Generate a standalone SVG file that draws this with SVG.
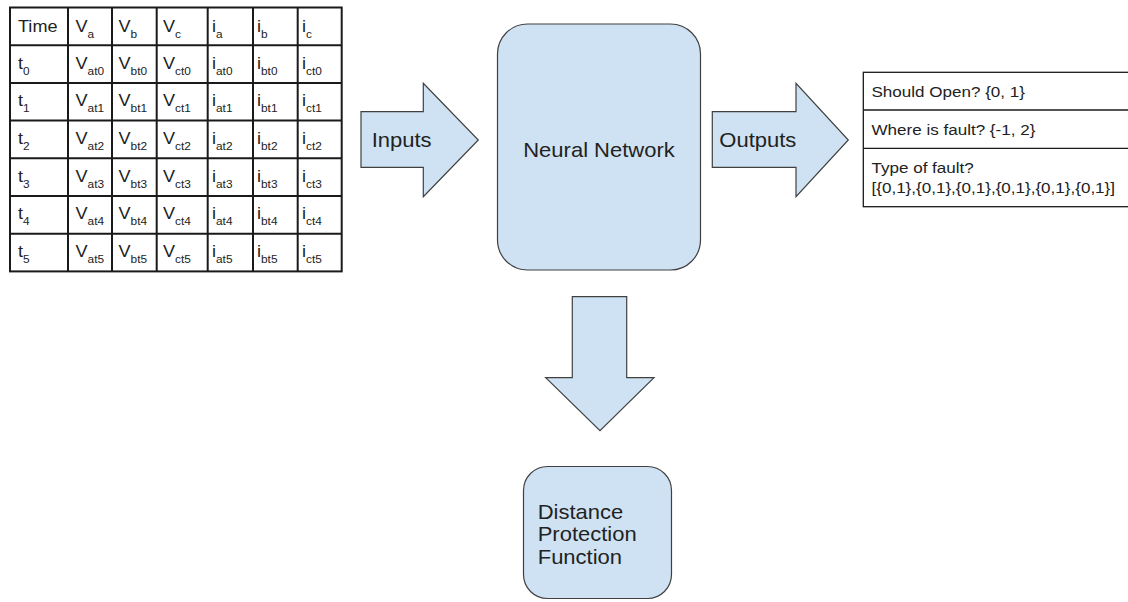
<svg xmlns="http://www.w3.org/2000/svg" width="1128" height="602" viewBox="0 0 1128 602">
<style>
  .bg{fill:#ffffff}
  .shape{fill:#cfe2f3;stroke:#404040;stroke-width:1.2}
  .grid{fill:none;stroke:#1a1a1a;stroke-width:2}
  .otab{fill:#ffffff;stroke:#1a1a1a;stroke-width:1.3}
  text{font-family:"Liberation Sans",Arial,sans-serif;fill:#222222}
  .cell{font-size:16px}
  .sub{font-size:10.5px}
  .lbl{font-size:20px}
  .out{font-size:15.5px}
</style>
<rect class="bg" x="0" y="0" width="1128" height="602"/>

<g id="input-table">
  <rect class="grid" x="10" y="7.5" width="331.7" height="263.9"/>
  <g class="grid">
    <line x1="68" y1="7.5" x2="68" y2="271.4" stroke="#1a1a1a" stroke-width="2"/>
    <line x1="112" y1="7.5" x2="112" y2="271.4" stroke="#1a1a1a" stroke-width="2"/>
    <line x1="156.7" y1="7.5" x2="156.7" y2="271.4" stroke="#1a1a1a" stroke-width="2"/>
    <line x1="207.7" y1="7.5" x2="207.7" y2="271.4" stroke="#1a1a1a" stroke-width="2"/>
    <line x1="253" y1="7.5" x2="253" y2="271.4" stroke="#1a1a1a" stroke-width="2"/>
    <line x1="297.7" y1="7.5" x2="297.7" y2="271.4" stroke="#1a1a1a" stroke-width="2"/>
    <line x1="10" y1="45.2" x2="341.7" y2="45.2" stroke="#1a1a1a" stroke-width="2"/>
    <line x1="10" y1="82.9" x2="341.7" y2="82.9" stroke="#1a1a1a" stroke-width="2"/>
    <line x1="10" y1="120.6" x2="341.7" y2="120.6" stroke="#1a1a1a" stroke-width="2"/>
    <line x1="10" y1="158.3" x2="341.7" y2="158.3" stroke="#1a1a1a" stroke-width="2"/>
    <line x1="10" y1="196" x2="341.7" y2="196" stroke="#1a1a1a" stroke-width="2"/>
    <line x1="10" y1="233.7" x2="341.7" y2="233.7" stroke="#1a1a1a" stroke-width="2"/>
  </g>
  <!-- header -->
  <text class="cell" transform="matrix(1.13 0 0 1 18 31.5)">Time</text>
  <text class="cell" transform="matrix(1.13 0 0 1 75.5 31.5)">V<tspan class="sub" dy="6">a</tspan></text>
  <text class="cell" transform="matrix(1.13 0 0 1 118.5 31.5)">V<tspan class="sub" dy="6">b</tspan></text>
  <text class="cell" transform="matrix(1.13 0 0 1 163 31.5)">V<tspan class="sub" dy="6">c</tspan></text>
  <text class="cell" transform="matrix(1.13 0 0 1 212 31.5)">i<tspan class="sub" dy="6">a</tspan></text>
  <text class="cell" transform="matrix(1.13 0 0 1 257 31.5)">i<tspan class="sub" dy="6">b</tspan></text>
  <text class="cell" transform="matrix(1.13 0 0 1 302 31.5)">i<tspan class="sub" dy="6">c</tspan></text>
  <!-- t0 -->
  <text class="cell" transform="matrix(1.13 0 0 1 18 68.5)">t<tspan class="sub" dy="6">0</tspan></text>
  <text class="cell" transform="matrix(1.13 0 0 1 75.5 68.5)">V<tspan class="sub" dy="6">at0</tspan></text>
  <text class="cell" transform="matrix(1.13 0 0 1 118.5 68.5)">V<tspan class="sub" dy="6">bt0</tspan></text>
  <text class="cell" transform="matrix(1.13 0 0 1 163 68.5)">V<tspan class="sub" dy="6">ct0</tspan></text>
  <text class="cell" transform="matrix(1.13 0 0 1 212 68.5)">i<tspan class="sub" dy="6">at0</tspan></text>
  <text class="cell" transform="matrix(1.13 0 0 1 257 68.5)">i<tspan class="sub" dy="6">bt0</tspan></text>
  <text class="cell" transform="matrix(1.13 0 0 1 302 68.5)">i<tspan class="sub" dy="6">ct0</tspan></text>
  <!-- t1 -->
  <text class="cell" transform="matrix(1.13 0 0 1 18 106.2)">t<tspan class="sub" dy="6">1</tspan></text>
  <text class="cell" transform="matrix(1.13 0 0 1 75.5 106.2)">V<tspan class="sub" dy="6">at1</tspan></text>
  <text class="cell" transform="matrix(1.13 0 0 1 118.5 106.2)">V<tspan class="sub" dy="6">bt1</tspan></text>
  <text class="cell" transform="matrix(1.13 0 0 1 163 106.2)">V<tspan class="sub" dy="6">ct1</tspan></text>
  <text class="cell" transform="matrix(1.13 0 0 1 212 106.2)">i<tspan class="sub" dy="6">at1</tspan></text>
  <text class="cell" transform="matrix(1.13 0 0 1 257 106.2)">i<tspan class="sub" dy="6">bt1</tspan></text>
  <text class="cell" transform="matrix(1.13 0 0 1 302 106.2)">i<tspan class="sub" dy="6">ct1</tspan></text>
  <!-- t2 -->
  <text class="cell" transform="matrix(1.13 0 0 1 18 143.9)">t<tspan class="sub" dy="6">2</tspan></text>
  <text class="cell" transform="matrix(1.13 0 0 1 75.5 143.9)">V<tspan class="sub" dy="6">at2</tspan></text>
  <text class="cell" transform="matrix(1.13 0 0 1 118.5 143.9)">V<tspan class="sub" dy="6">bt2</tspan></text>
  <text class="cell" transform="matrix(1.13 0 0 1 163 143.9)">V<tspan class="sub" dy="6">ct2</tspan></text>
  <text class="cell" transform="matrix(1.13 0 0 1 212 143.9)">i<tspan class="sub" dy="6">at2</tspan></text>
  <text class="cell" transform="matrix(1.13 0 0 1 257 143.9)">i<tspan class="sub" dy="6">bt2</tspan></text>
  <text class="cell" transform="matrix(1.13 0 0 1 302 143.9)">i<tspan class="sub" dy="6">ct2</tspan></text>
  <!-- t3 -->
  <text class="cell" transform="matrix(1.13 0 0 1 18 181.6)">t<tspan class="sub" dy="6">3</tspan></text>
  <text class="cell" transform="matrix(1.13 0 0 1 75.5 181.6)">V<tspan class="sub" dy="6">at3</tspan></text>
  <text class="cell" transform="matrix(1.13 0 0 1 118.5 181.6)">V<tspan class="sub" dy="6">bt3</tspan></text>
  <text class="cell" transform="matrix(1.13 0 0 1 163 181.6)">V<tspan class="sub" dy="6">ct3</tspan></text>
  <text class="cell" transform="matrix(1.13 0 0 1 212 181.6)">i<tspan class="sub" dy="6">at3</tspan></text>
  <text class="cell" transform="matrix(1.13 0 0 1 257 181.6)">i<tspan class="sub" dy="6">bt3</tspan></text>
  <text class="cell" transform="matrix(1.13 0 0 1 302 181.6)">i<tspan class="sub" dy="6">ct3</tspan></text>
  <!-- t4 -->
  <text class="cell" transform="matrix(1.13 0 0 1 18 219.3)">t<tspan class="sub" dy="6">4</tspan></text>
  <text class="cell" transform="matrix(1.13 0 0 1 75.5 219.3)">V<tspan class="sub" dy="6">at4</tspan></text>
  <text class="cell" transform="matrix(1.13 0 0 1 118.5 219.3)">V<tspan class="sub" dy="6">bt4</tspan></text>
  <text class="cell" transform="matrix(1.13 0 0 1 163 219.3)">V<tspan class="sub" dy="6">ct4</tspan></text>
  <text class="cell" transform="matrix(1.13 0 0 1 212 219.3)">i<tspan class="sub" dy="6">at4</tspan></text>
  <text class="cell" transform="matrix(1.13 0 0 1 257 219.3)">i<tspan class="sub" dy="6">bt4</tspan></text>
  <text class="cell" transform="matrix(1.13 0 0 1 302 219.3)">i<tspan class="sub" dy="6">ct4</tspan></text>
  <!-- t5 -->
  <text class="cell" transform="matrix(1.13 0 0 1 18 257)">t<tspan class="sub" dy="6">5</tspan></text>
  <text class="cell" transform="matrix(1.13 0 0 1 75.5 257)">V<tspan class="sub" dy="6">at5</tspan></text>
  <text class="cell" transform="matrix(1.13 0 0 1 118.5 257)">V<tspan class="sub" dy="6">bt5</tspan></text>
  <text class="cell" transform="matrix(1.13 0 0 1 163 257)">V<tspan class="sub" dy="6">ct5</tspan></text>
  <text class="cell" transform="matrix(1.13 0 0 1 212 257)">i<tspan class="sub" dy="6">at5</tspan></text>
  <text class="cell" transform="matrix(1.13 0 0 1 257 257)">i<tspan class="sub" dy="6">bt5</tspan></text>
  <text class="cell" transform="matrix(1.13 0 0 1 302 257)">i<tspan class="sub" dy="6">ct5</tspan></text>
</g>

<g id="neural-network">
  <rect class="shape" x="497.5" y="24" width="203" height="246" rx="30" ry="30"/>
  <text class="lbl" text-anchor="middle" transform="matrix(1.1 0 0 1 599 156.7)">Neural Network</text>
</g>

<g id="outputs-table">
  <rect class="otab" x="863.3" y="72.3" width="270" height="134.4"/>
  <line x1="863.3" y1="110" x2="1133" y2="110" stroke="#1a1a1a" stroke-width="1.3"/>
  <line x1="863.3" y1="148.3" x2="1133" y2="148.3" stroke="#1a1a1a" stroke-width="1.3"/>
  <text class="out" transform="matrix(1.1 0 0 1 871.5 96.7)">Should Open? {0, 1}</text>
  <text class="out" transform="matrix(1.1 0 0 1 871.5 135)">Where is fault? {-1, 2}</text>
  <text class="out" transform="matrix(1.1 0 0 1 871.5 172.7)">Type of fault?</text>
  <text class="out" transform="matrix(1.1 0 0 1 871.5 192.7)">[{0,1},{0,1},{0,1},{0,1},{0,1},{0,1}]</text>
</g>

<g id="distance-protection">
  <rect class="shape" x="523.5" y="466.5" width="148" height="132" rx="24" ry="24"/>
  <text class="lbl" transform="matrix(1.1 0 0 1 537.7 518.5)">Distance</text>
  <text class="lbl" transform="matrix(1.1 0 0 1 537.7 541)">Protection</text>
  <text class="lbl" transform="matrix(1.1 0 0 1 537.7 563.5)">Function</text>
</g>

<g id="connectors">
  <g id="inputs-arrow">
    <polygon class="shape" points="361,111.7 423.3,111.7 423.3,83.3 478.3,140 423.3,196.7 423.3,167.3 361,167.3"/>
    <text class="lbl" transform="matrix(1.1 0 0 1 371.7 147.3)">Inputs</text>
  </g>
  <g id="outputs-arrow">
    <polygon class="shape" points="712.3,111.7 796,111.7 796,83.3 848.3,140 796,196.7 796,167.3 712.3,167.3"/>
    <text class="lbl" transform="matrix(1.1 0 0 1 719.3 147.3)">Outputs</text>
  </g>
  <g id="down-arrow">
    <polygon class="shape" points="572.3,296.7 626.7,296.7 626.7,377.7 654,377.7 600,430.7 545.7,377.7 572.3,377.7"/>
  </g>
</g>
</svg>
